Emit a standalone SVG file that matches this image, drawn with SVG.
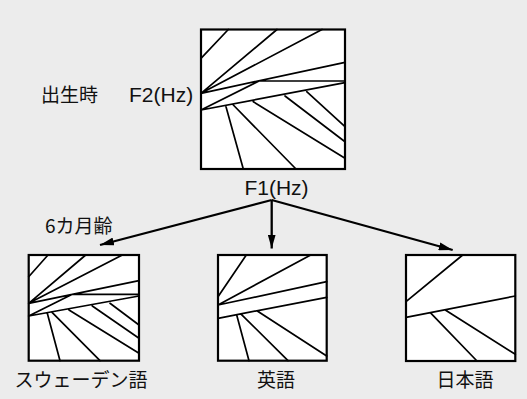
<svg xmlns="http://www.w3.org/2000/svg" width="527" height="399" viewBox="0 0 527 399">
<defs>
<marker id="ah" viewBox="0 0 14 8" refX="14" refY="4" markerWidth="14" markerHeight="8" markerUnits="userSpaceOnUse" orient="auto">
<path d="M0,0 L14,4 L0,8 Z" fill="#000"/>
</marker>
</defs>
<style>
.box{fill:#fff;stroke:#000;stroke-width:2.2}
.ln{stroke:#000;stroke-width:1.7;fill:none;stroke-linecap:round}
.ar{stroke:#000;stroke-width:2.3;fill:none}
.jp{font-family:"Noto Sans CJK JP","Noto Sans",sans-serif;font-size:19px;fill:#111}
.lt{font-family:"Liberation Sans",Arial,sans-serif;font-size:21px;fill:#111}
</style>
<rect width="527" height="399" fill="#ececec"/>
<g id="birth">
<rect class="box" x="201" y="29.5" width="144" height="139.5"/>
<path class="ln" d="M201,58.3 L228.3,29.5 M201,93.3 L277,29.5 M201,93.3 L322,29.5 M201,93.3 L345,62.3 M259,81 L345,81 M201,110 L259,81 M201,110 L345,82.7 M226,106.7 L243.3,169 M233.3,105 L296,169 M253.3,101.7 L345,158.3 M285,96 L345,141.7 M306.7,91.7 L345,126.7"/>
<text class="jp" x="41" y="102">出生時</text>
<text class="lt" x="129" y="102">F2(Hz)</text>
<text class="lt" x="276.5" y="195" text-anchor="middle">F1(Hz)</text>
</g>
<g id="swedish">
<rect class="box" x="28.7" y="255" width="110.3" height="105.7"/>
<path class="ln" d="M28.7,276.7 L48,255 M28.7,303.3 L85.7,255 M28.7,303.3 L122.3,255 M28.7,303.3 L139,280.7 M72.3,294.3 L139,294.3 M28.7,316 L72.3,294.3 M28.7,316 L139,296 M47.3,313.3 L60,360.7 M52.3,312.7 L100,360.7 M69,310 L139,353.3 M92.3,306 L139,338.3 M110,303.3 L139,325"/>
<text class="jp" x="81" y="387" text-anchor="middle">スウェーデン語</text>
</g>
<g id="english">
<rect class="box" x="218" y="255" width="108.7" height="105.7"/>
<path class="ln" d="M218,296.7 L246.3,255 M218,305 L310.7,255 M218,305 L326.7,281.7 M218,318.3 L326.7,297.3 M236.7,315 L249,360.7 M241.3,314.3 L288,360.7 M257.3,311 L326.7,356"/>
<text class="jp" x="276" y="387" text-anchor="middle">英語</text>
</g>
<g id="japanese">
<rect class="box" x="406" y="255" width="109.3" height="106"/>
<path class="ln" d="M406,301.7 L462.7,255 M406,317.3 L515.3,296 M430.3,312.7 L477,361 M445.3,310 L515.3,354.3"/>
<text class="jp" x="465" y="387" text-anchor="middle">日本語</text>
</g>
<g id="connectors">
<line class="ar" x1="271.7" y1="200" x2="100" y2="245" marker-end="url(#ah)"/>
<line class="ar" x1="271.7" y1="200" x2="271.7" y2="248.5" marker-end="url(#ah)"/>
<line class="ar" x1="271.7" y1="200" x2="452.7" y2="250" marker-end="url(#ah)"/>
<text class="jp" x="45" y="233">6カ月齢</text>
</g>
</svg>
